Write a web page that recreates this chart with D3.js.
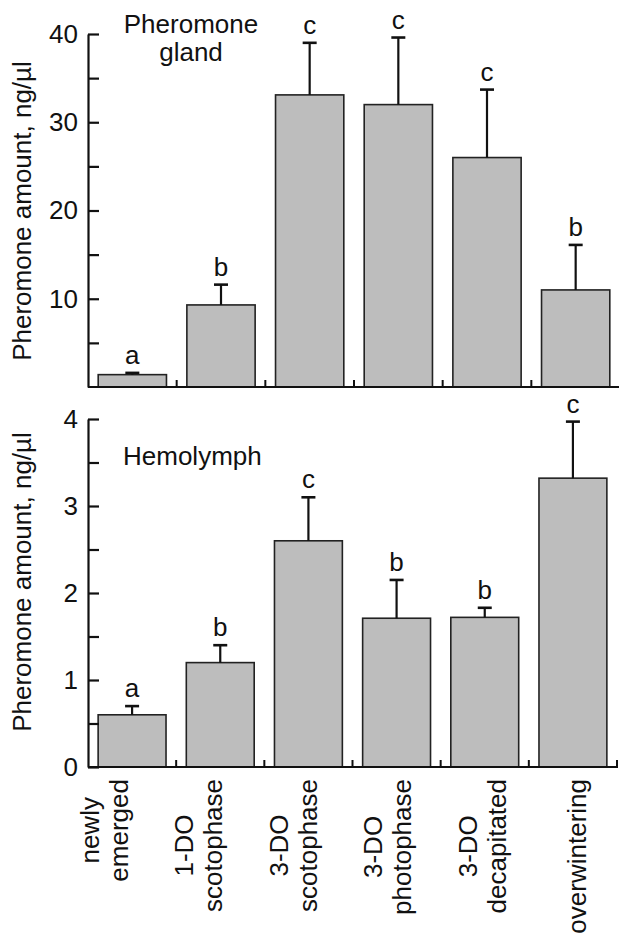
<!DOCTYPE html>
<html>
<head>
<meta charset="utf-8">
<script src="https://cdn.jsdelivr.net/npm/d3@7/dist/d3.min.js"></script>
<style>
  html, body { margin: 0; padding: 0; background: #fff; }
  svg { display: block; font-family: "Liberation Sans", Arial, Helvetica, sans-serif; }
</style>
</head>
<body>
<svg id="chart" width="619" height="934"></svg>
<script>
// ---- data ----
const categories = ["newly emerged", "1-DO scotophase", "3-DO scotophase", "3-DO photophase", "3-DO decapitated", "overwintering"];
const categoryLines = [["newly", "emerged"], ["1-DO", "scotophase"], ["3-DO", "scotophase"], ["3-DO", "photophase"], ["3-DO", "decapitated"], ["overwintering"]];

const glandMeans = [1.4, 9.3, 33.1, 32.0, 26.0, 11.0];
const glandErrors = [0.2, 2.3, 5.9, 7.6, 7.7, 5.1];
const glandLetters = ["a", "b", "c", "c", "c", "b"];
const glandMajorTicks = [10, 20, 30, 40];
const glandMinorTicks = [5, 15, 25, 35];

const hemoMeans = [0.6, 1.2, 2.6, 1.71, 1.72, 3.32];
const hemoErrors = [0.1, 0.2, 0.5, 0.44, 0.11, 0.65];
const hemoLetters = ["a", "b", "c", "b", "b", "c"];
const hemoMajorTicks = [0, 1, 2, 3, 4];
const hemoMinorTicks = [0.5, 1.5, 2.5, 3.5];

const yTitle = "Pheromone amount, ng/\u00b5l";

// ---- drawing ----
const svg = d3.select("#chart");
const FS = 26;
const barFill = "#bdbdbd";
const ink = "#111";

function panel(cfg) {
  const g = svg.append("g");
  const x = d3.scaleBand().domain(categories).range(cfg.xRange)
    .paddingInner(0.23).paddingOuter(0.115);
  const y = d3.scaleLinear().domain(cfg.yDomain).range(cfg.yRange);
  const step = x.step();
  const x0 = cfg.xRange[0];
  const yb = y(0);

  const data = categories.map((c, i) => ({ c, m: cfg.means[i], e: cfg.errors[i], l: cfg.letters[i] }));

  // bars
  g.selectAll("rect.bar").data(data).join("rect")
    .attr("class", "bar")
    .attr("x", d => x(d.c))
    .attr("y", d => y(d.m))
    .attr("width", x.bandwidth())
    .attr("height", d => yb - y(d.m))
    .attr("fill", barFill)
    .attr("stroke", "#222")
    .attr("stroke-width", 1.6);

  // error bars
  g.selectAll("line.err").data(data).join("line")
    .attr("class", "err")
    .attr("x1", d => x(d.c) + x.bandwidth() / 2)
    .attr("x2", d => x(d.c) + x.bandwidth() / 2)
    .attr("y1", d => y(d.m))
    .attr("y2", d => y(d.m + d.e))
    .attr("stroke", ink).attr("stroke-width", 2.2);
  g.selectAll("line.cap").data(data).join("line")
    .attr("class", "cap")
    .attr("x1", d => x(d.c) + x.bandwidth() / 2 - 7)
    .attr("x2", d => x(d.c) + x.bandwidth() / 2 + 7)
    .attr("y1", d => y(d.m + d.e))
    .attr("y2", d => y(d.m + d.e))
    .attr("stroke", ink).attr("stroke-width", 2.6);

  // letters
  g.selectAll("text.letter").data(data).join("text")
    .attr("class", "letter")
    .attr("x", d => x(d.c) + x.bandwidth() / 2)
    .attr("y", d => y(d.m + d.e) - 9)
    .attr("text-anchor", "middle")
    .attr("font-size", FS)
    .attr("fill", ink)
    .text(d => d.l);

  // y axis major
  const ax = d3.axisLeft(y).tickValues(cfg.major).tickFormat(d3.format("d"))
    .tickSizeInner(-11).tickSizeOuter(0).tickPadding(10);
  const ag = g.append("g").attr("transform", `translate(${x0},0)`).call(ax);
  ag.select(".domain").attr("stroke", ink).attr("stroke-width", 2.2);
  ag.selectAll(".tick line").attr("stroke", ink).attr("stroke-width", 2.2);
  ag.selectAll(".tick text").attr("font-size", FS).attr("fill", ink)
    .attr("font-family", "Liberation Sans, Arial, sans-serif");
  // y axis minor
  const mx = d3.axisLeft(y).tickValues(cfg.minor).tickSizeInner(-11).tickSizeOuter(0).tickFormat("");
  const mg = g.append("g").attr("transform", `translate(${x0},0)`).call(mx);
  mg.select(".domain").remove();
  mg.selectAll(".tick line").attr("stroke", ink).attr("stroke-width", 2.2);

  // x baseline and between-bar ticks
  g.append("line")
    .attr("x1", x0).attr("x2", cfg.xRange[1] + 1)
    .attr("y1", yb).attr("y2", yb)
    .attr("stroke", ink).attr("stroke-width", 2.2);
  const bounds = d3.range(1, categories.length + 1).map(k => x0 + step * k);
  g.selectAll("line.xt").data(bounds).join("line")
    .attr("class", "xt")
    .attr("x1", d => d).attr("x2", d => d)
    .attr("y1", yb).attr("y2", yb - 7)
    .attr("stroke", ink).attr("stroke-width", 2);

  // y title
  g.append("text")
    .attr("transform", `translate(31,${cfg.titleY}) rotate(-90)`)
    .attr("text-anchor", "middle")
    .attr("font-size", FS)
    .attr("fill", ink)
    .text(yTitle);

  return x;
}

panel({
  xRange: [88, 620], yDomain: [0, 40], yRange: [387, 34],
  means: glandMeans, errors: glandErrors, letters: glandLetters,
  major: glandMajorTicks, minor: glandMinorTicks, titleY: 211
});
panel({
  xRange: [88, 617], yDomain: [0, 4], yRange: [767, 419],
  means: hemoMeans, errors: hemoErrors, letters: hemoLetters,
  major: hemoMajorTicks, minor: hemoMinorTicks, titleY: 582
});

// panel labels
svg.append("text").attr("x", 191).attr("y", 33).attr("text-anchor", "middle")
  .attr("font-size", FS).attr("fill", ink).text("Pheromone");
svg.append("text").attr("x", 191).attr("y", 61).attr("text-anchor", "middle")
  .attr("font-size", FS).attr("fill", ink).text("gland");
svg.append("text").attr("x", 123).attr("y", 465).attr("text-anchor", "start")
  .attr("font-size", FS).attr("fill", ink).text("Hemolymph");

// category labels (rotated, multi-line, top-aligned block); labels sit on a slightly wider band than the bars
const xl = d3.scaleBand().domain(categories).range([66, 633]);
const labTop = 779;
const lineGap = 29;
categories.forEach((c, i) => {
  const lines = categoryLines[i];
  const cx = xl(c) + xl.bandwidth() / 2;
  const grp = svg.append("g");
  const texts = lines.map(t => grp.append("text")
    .attr("font-size", FS).attr("fill", ink).attr("text-anchor", "middle").text(t));
  const maxLen = d3.max(texts, t => t.node().getComputedTextLength());
  const yc = labTop + maxLen / 2;
  texts.forEach((t, j) => {
    const bx = cx + (j - (lines.length - 1) / 2) * lineGap;
    t.attr("transform", `translate(${bx},${yc}) rotate(-90)`);
  });
});
</script>
</body>
</html>
